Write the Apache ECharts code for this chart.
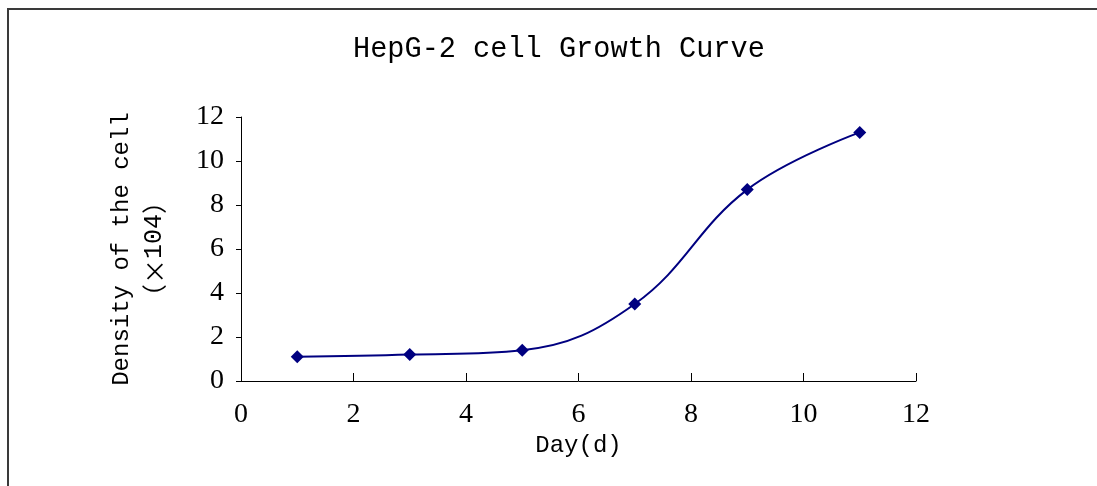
<!DOCTYPE html>
<html>
<head>
<meta charset="utf-8">
<script src="https://cdn.jsdelivr.net/npm/echarts@6/dist/echarts.min.js"></script>
<style>
html,body{margin:0;padding:0;background:#fff;}
#chart{width:1097px;height:486px;}
</style>
</head>
<body>
<div id="chart"></div>
<script>
const days = [1, 3, 5, 7, 9, 11];
const density = [1.1, 1.2, 1.4, 3.5, 8.7, 11.3];
const titleText = 'HepG-2 cell Growth Curve';
const xName = 'Day(d)';
const yNameLine1 = 'Density of the cell';
const yNameLine2 = ['（×', '104', '）'];

const monoFont = '"Liberation Mono", "Noto Sans CJK SC", monospace';
const cjkFont = '"Noto Sans CJK SC", sans-serif';
const serifFont = '"Liberation Serif", serif';

const chart = echarts.init(document.getElementById('chart'), null, {renderer: 'canvas'});
chart.setOption({
  animation: false,
  backgroundColor: '#ffffff',
  graphic: [{
    type: 'rect',
    shape: {x: 8, y: 9, width: 1200, height: 600},
    style: {fill: 'none', stroke: '#3a3a3a', lineWidth: 2}
  }],
  title: {
    text: titleText,
    left: 348,
    top: 30,
    textStyle: {fontFamily: monoFont, fontSize: 28.6, fontWeight: 'normal', color: '#000'}
  },
  grid: {left: 241, right: 181, top: 117, bottom: 105, containLabel: false},
  xAxis: {
    type: 'value', min: 0, max: 12, interval: 2,
    name: xName, nameLocation: 'middle', nameGap: 47,
    nameTextStyle: {fontFamily: monoFont, fontSize: 24, color: '#000'},
    axisLine: {show: true, lineStyle: {color: '#000', width: 1}},
    axisTick: {show: true, inside: true, length: 8, lineStyle: {color: '#000'}},
    axisLabel: {fontFamily: serifFont, fontSize: 28, color: '#000', margin: 20},
    splitLine: {show: false}
  },
  yAxis: {
    type: 'value', min: 0, max: 12, interval: 2,
    name: yNameLine1 + '\n{c|' + yNameLine2[0] + '}{m|' + yNameLine2[1] + '}{c|' + yNameLine2[2] + '}',
    nameLocation: 'middle', nameRotate: 90, nameGap: 70,
    nameTextStyle: {
      fontFamily: monoFont, fontSize: 24, color: '#000', lineHeight: 33,
      rich: {
        c: {fontFamily: cjkFont, fontSize: 25, color: '#000', lineHeight: 33},
        m: {fontFamily: monoFont, fontSize: 25, color: '#000', lineHeight: 33}
      }
    },
    axisLine: {show: true, lineStyle: {color: '#000', width: 1}},
    axisTick: {show: true, inside: false, length: 5, lineStyle: {color: '#000'}},
    axisLabel: {fontFamily: serifFont, fontSize: 28, color: '#000', margin: 17},
    splitLine: {show: false}
  },
  series: [{
    type: 'line',
    data: days.map((d, i) => [d, density[i]]),
    smooth: 0.4,
    symbol: 'diamond',
    symbolSize: 13,
    itemStyle: {color: '#000080'},
    lineStyle: {color: '#000080', width: 2}
  }]
});
</script>
</body>
</html>
